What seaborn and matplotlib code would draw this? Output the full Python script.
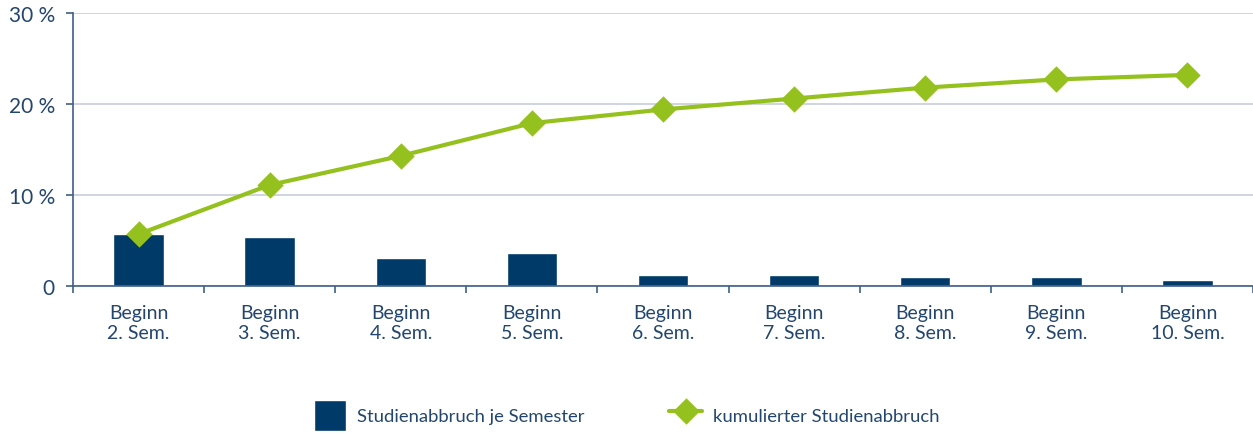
import matplotlib
matplotlib.use("Agg")
import matplotlib.pyplot as plt
import seaborn as sns
import pandas as pd
from matplotlib.ticker import FixedLocator, FuncFormatter

# data
semester = ['2.', '3.', '4.', '5.', '6.', '7.', '8.', '9.', '10.']
tick_labels = [f'Beginn\n{s} Sem.' for s in semester]
per_semester = [5.7, 5.4, 3.05, 3.6, 1.2, 1.2, 0.95, 0.95, 0.7]
cumulative = [5.7, 11.1, 14.3, 17.9, 19.4, 20.6, 21.8, 22.7, 23.2]

df = pd.DataFrame({'label': tick_labels, 'je': per_semester, 'kum': cumulative})

text_col = '#24466e'
bar_col = '#003a68'
line_col = '#95c11f'
grid_col = '#c8cdda'
spine_col = '#3f5f86'

sns.set_style('white')
plt.rcParams['font.family'] = ['Lato', 'DejaVu Sans']

fig = plt.figure(figsize=(12.53, 4.35), dpi=100)
ax = fig.add_axes([73 / 1253, 1 - 287 / 435, 1 - 73 / 1253, 273 / 435])

sns.barplot(data=df, x='label', y='je', color=bar_col, width=0.385,
            saturation=1, ax=ax, zorder=2, label='Studienabbruch je Semester')
sns.pointplot(data=df, x='label', y='kum', color=line_col, markers='D',
              markersize=11, linewidth=3, ax=ax, zorder=3,
              label='kumulierter Studienabbruch')

ax.set_xlim(-0.5, 8.5)
ax.set_ylim(0, 30)
ax.set_yticks([0, 10, 20, 30])
ax.yaxis.set_major_formatter(FuncFormatter(lambda v, p: '0' if v == 0 else f'{v:.0f} %'))
ax.yaxis.grid(True, color=grid_col, linewidth=1.2, zorder=0)
ax.set_axisbelow(True)
ax.set_xlabel('')
ax.set_ylabel('')

# x ticks: labels at centres, tick marks between categories
ax.set_xticks(range(len(tick_labels)))
ax.set_xticklabels(tick_labels)
ax.xaxis.set_minor_locator(FixedLocator([i - 0.5 for i in range(len(tick_labels) + 1)]))
ax.tick_params(axis='x', which='major', length=0, pad=13, labelsize=14, labelcolor=text_col)
ax.tick_params(axis='x', which='minor', length=5, width=1.2, color=spine_col, direction='out')
ax.tick_params(axis='y', length=5, width=1.2, color=spine_col, direction='out',
               labelsize=15, labelcolor=text_col, pad=8)
ax.tick_params(axis='both', bottom=True, left=True, which='both')

for side in ['top', 'right']:
    ax.spines[side].set_visible(False)
for side in ['left', 'bottom']:
    ax.spines[side].set_color(spine_col)
    ax.spines[side].set_linewidth(1.2)

handles, labels = ax.get_legend_handles_labels()
if ax.legend_:
    ax.legend_.remove()
order = [labels.index('Studienabbruch je Semester'), labels.index('kumulierter Studienabbruch')]
fig.legend([handles[i] for i in order], [labels[i] for i in order],
           loc='center', bbox_to_anchor=(0.5, 0.0425), ncol=2,
           frameon=False, fontsize=13.3, labelcolor=text_col, columnspacing=4.6,
           handlelength=1.75, handleheight=2.2, handletextpad=0.6)

fig.savefig('out.png', dpi=100)
